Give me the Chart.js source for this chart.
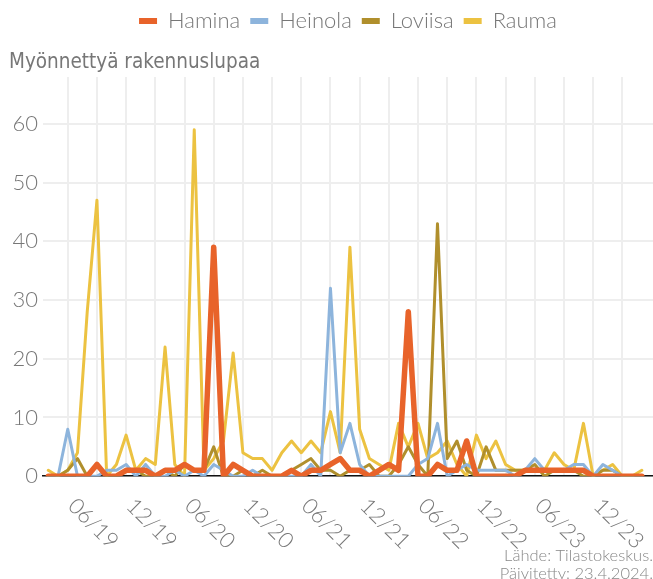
<!DOCTYPE html>
<html>
<head>
<meta charset="utf-8">
<script src="https://cdn.jsdelivr.net/npm/chart.js@4"></script>
<style>
  html, body { margin: 0; padding: 0; background: #fff; }
  #wrap { width: 653px; height: 579px; position: relative; }
</style>
</head>
<body>
<div id="wrap"><canvas id="chart"></canvas></div>
<script>
// months on the x axis (one point per month)
const months = [
  '04/19','05/19','06/19','07/19','08/19','09/19','10/19','11/19','12/19',
  '01/20','02/20','03/20','04/20','05/20','06/20','07/20','08/20','09/20','10/20','11/20','12/20',
  '01/21','02/21','03/21','04/21','05/21','06/21','07/21','08/21','09/21','10/21','11/21','12/21',
  '01/22','02/22','03/22','04/22','05/22','06/22','07/22','08/22','09/22','10/22','11/22','12/22',
  '01/23','02/23','03/23','04/23','05/23','06/23','07/23','08/23','09/23','10/23','11/23','12/23',
  '01/24','02/24','03/24','04/24','05/24'
];

// granted building permits per month
const hamina  = [0,0,0,0,0,2,0,0,1,1, 1,0,1,1,2,1,1,39,0,2, 1,0,0,0,0,1,0,1,1,2, 3,1,1,0,1,2,1,28,0,0, 2,1,1,6,0,0,0,0,0,1, 1,1,1,1,1,1,0,0,0,0, 0,0];
const heinola = [0,0,8,0,0,0,1,1,2,0, 2,0,0,1,0,1,0,2,1,0, 0,1,0,0,0,0,0,2,0,32, 4,9,2,0,0,0,0,0,2,3, 9,0,1,2,1,1,1,1,0,1, 3,1,1,1,2,2,0,2,1,0, 0,0];
const loviisa = [0,0,1,3,0,2,0,0,1,1, 0,0,1,0,2,1,1,5,0,0, 1,0,1,0,0,1,2,3,1,1, 0,1,1,2,0,0,2,5,2,0, 43,3,6,1,0,5,1,1,1,1, 2,0,1,1,1,0,0,1,1,0, 0,0];
const rauma   = [1,0,1,4,28,47,0,2,7,1, 3,2,22,2,0,59,1,3,6,21, 4,3,3,1,4,6,4,6,4,11, 4,39,8,3,2,1,9,5,9,3, 4,6,2,0,7,3,6,2,1,1, 1,1,4,2,1,9,0,1,2,0, 0,1];

const seriesNames = ['Hamina', 'Heinola', 'Loviisa', 'Rauma'];
const seriesData = [hamina, heinola, loviisa, rauma];
const colors = ['#e8632a', '#8db4dc', '#b08f2c', '#ecc241'];
const widths = [5.5, 3, 3, 3];

const yTicks = [0, 10, 20, 30, 40, 50, 60];
const footer = ['Lähde: Tilastokeskus.', 'Päivitetty: 23.4.2024.'];

const grey = '#777';

// x labels are drawn by hand since they lean the other way
const xLabelPlugin = {
  id: 'xLabels',
  afterDraw(chart) {
    const ctx = chart.ctx;
    const xs = chart.scales.x;
    ctx.save();
    ctx.font = '300 22px Lato';
    ctx.fillStyle = grey;
    ctx.textAlign = 'left';
    ctx.textBaseline = 'middle';
    months.forEach((m, i) => {
      if (!m.startsWith('06') && !m.startsWith('12')) return;
      ctx.save();
      ctx.translate(xs.getPixelForValue(i) + 4, xs.top + 26);
      ctx.rotate(Math.PI / 4);
      ctx.fillText(m, 0, 0);
      ctx.restore();
    });
    ctx.restore();
  }
};

new Chart(document.getElementById('chart'), {
  type: 'line',
  data: {
    datasets: seriesNames.map((name, s) => ({
      label: name,
      data: seriesData[s].map((v, i) => ({ x: i, y: v })),
      borderColor: colors[s],
      backgroundColor: colors[s],
      borderWidth: widths[s],
      borderJoinStyle: 'round',
      borderCapStyle: 'round',
      pointRadius: 0,
      tension: 0
    }))
  },
  options: {
    responsive: true,
    maintainAspectRatio: false,
    animation: false,
    layout: { padding: { left: 9, right: 0, top: 0, bottom: -4 } },
    plugins: {
      legend: {
        position: 'top',
        fullSize: false,
        weight: 3000,
        labels: {
          boxWidth: 18,
          boxHeight: 6,
          padding: 10,
          color: grey,
          font: { family: 'Lato', size: 22, weight: '300' },
          generateLabels: chart => chart.data.datasets.map((ds, i) => ({
            text: ds.label,
            fillStyle: ds.borderColor,
            strokeStyle: ds.borderColor,
            lineWidth: 0,
            fontColor: grey,
            hidden: false,
            datasetIndex: i
          }))
        }
      },
      title: {
        display: true,
        text: 'Myönnettyä rakennuslupaa',
        align: 'start',
        color: grey,
        font: { family: "'Liberation Sans Narrow', 'DejaVu Sans Condensed', sans-serif", size: 20.5, weight: 'normal', lineHeight: 1 },
        padding: { top: 10, bottom: 4.4 }
      },
      subtitle: {
        display: true,
        position: 'bottom',
        align: 'end',
        text: footer,
        color: '#888',
        font: { family: 'Lato', size: 16.5, weight: '300', lineHeight: 1.1 },
        padding: 0
      },
      tooltip: { enabled: false }
    },
    scales: {
      x: {
        type: 'linear',
        min: -0.545,
        max: 62.15,
        afterBuildTicks: scale => {
          scale.ticks = months.map((m, i) => i).filter(i => i % 3 === 2).map(i => ({ value: i }));
        },
        afterFit: scale => { scale.height = 70.5; },
        ticks: { display: false },
        grid: { color: '#eeeeee', lineWidth: 2, drawTicks: false },
        border: { display: true, color: '#111', width: 1.5 }
      },
      y: {
        min: 0,
        max: 68,
        afterBuildTicks: scale => {
          scale.ticks = yTicks.map(v => ({ value: v }));
        },
        afterFit: scale => { scale.width = 34; },
        ticks: {
          padding: 5,
          color: grey,
          font: { family: 'Lato', size: 22, weight: '300' }
        },
        grid: { color: '#eeeeee', lineWidth: 2, drawTicks: false },
        border: { display: false }
      }
    }
  },
  plugins: [xLabelPlugin]
});
</script>
</body>
</html>
